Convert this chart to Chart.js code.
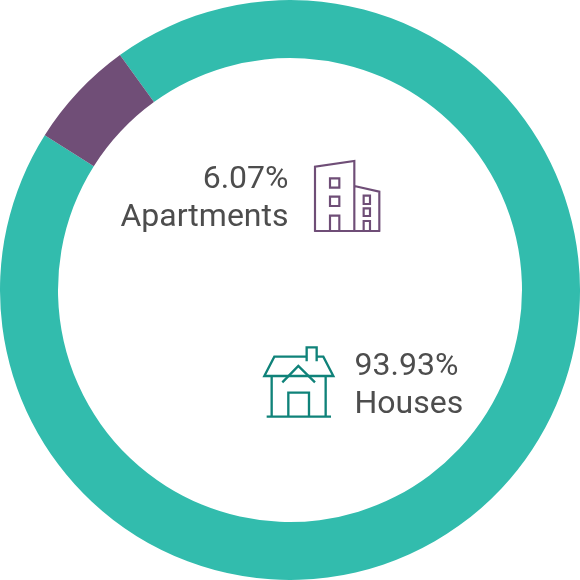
<!DOCTYPE html>
<html>
<head>
<meta charset="utf-8">
<script src="https://cdn.jsdelivr.net/npm/chart.js@4"></script>
<style>
html,body{margin:0;padding:0;background:#fff}
#wrap{position:relative;width:580px;height:580px;overflow:hidden}
.lab{position:absolute;font-family:Roboto,sans-serif;font-size:32px;line-height:38px;color:#4d4d4d;white-space:nowrap}
svg{position:absolute;left:0;top:0}
</style>
</head>
<body>
<div id="wrap">
<canvas id="c" width="580" height="580"></canvas>
<svg width="580" height="580" fill="none">
<g stroke="#6f4e77" transform="translate(300 150) scale(.3333)" stroke-width="6.5">
<path d="M45 245V50L163 33V245M163 108L238 125V245M43 243H240"/>
<path d="M90 85H118V113H90ZM90 140H118V168H90ZM90 243V197H118V243M191 137H210V162H191ZM191 175H210V198H191ZM191 243V213H210V243"/>
</g>
<g stroke="#0f8279" transform="translate(255 340) scale(.3333)" stroke-width="7">
<path d="M28 108L58 50H155V22H185V50H205L235 108ZM155 50V64M185 50V64"/>
<path d="M50 108V230M212 108V230M35 230H228M100 230V158H162V230M82 127L130 78L180 127"/>
</g>
</svg>
<div class="lab" style="right:291.5px;top:158px;text-align:right">6.07%<br>Apartments</div>
<div class="lab" style="left:354.5px;top:345px">93.93%<br>Houses</div>
</div>
<script>
const categories = ["Houses", "Apartments"];
const shares = [93.93, 6.07];
const colours = ["#32bcad", "#704e77"];
new Chart(document.getElementById("c"), {
  type: "doughnut",
  data: { labels: categories, datasets: [{ data: shares, backgroundColor: colours, borderWidth: 0 }] },
  options: {
    responsive: false,
    animation: false,
    cutout: "80%",
    rotation: -35.9,
    layout: { padding: 0 },
    plugins: { legend: { display: false }, tooltip: { enabled: false } }
  }
});
</script>
</body>
</html>
